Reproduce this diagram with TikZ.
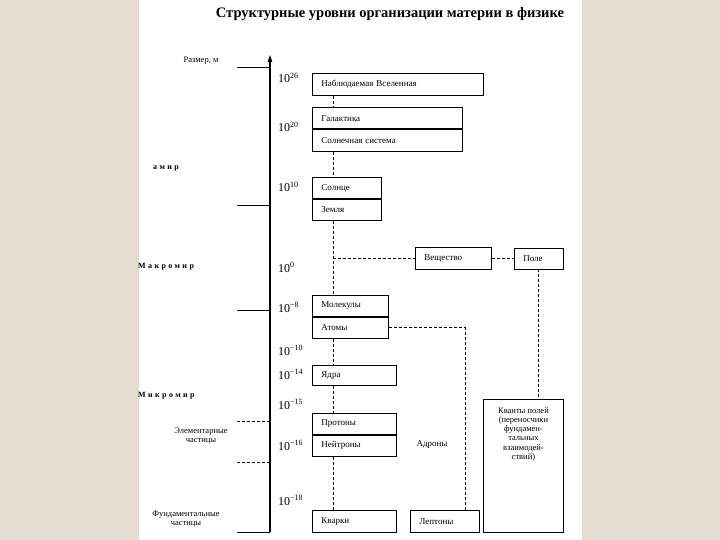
\documentclass[tikz,border=0pt]{standalone}
\usepackage{fontspec}
\setmainfont{Liberation Serif}
\newfontfamily\spacedfont[LetterSpace=30]{Liberation Serif}
\usetikzlibrary{arrows.meta, positioning, calc}
\definecolor{paperbg}{HTML}{E4DCCF}

\begin{document}
\begin{tikzpicture}[
  x=1pt, y=-1pt,
  font=\fontsize{9}{11}\selectfont,
  cell/.style={rectangle, draw=black, line width=0.9pt, minimum height=21.5pt,
               inner xsep=9pt, inner ysep=0pt, text width=#1, align=left, anchor=north west},
  power/.style={anchor=base west, inner sep=0pt, font=\fontsize{12}{14}\selectfont},
  realm/.style={anchor=west, inner sep=0pt, font=\spacedfont\bfseries\fontsize{8}{10}\selectfont},
  side/.style={align=center, inner sep=0pt, font=\fontsize{8.5}{9}\selectfont},
  link/.style={line width=0.9pt, dash pattern=on 3pt off 2pt},
  tick/.style={line width=0.8pt},
  axis/.style={line width=1.1pt, -{Triangle[length=7pt, width=4.5pt]}},
]
  % page and background
  \fill[paperbg] (0,0) rectangle (720,540);
  \fill[white] (139,0) rectangle (582,540);
  \useasboundingbox (0,0) rectangle (720,540);

  \node[font=\bfseries\fontsize{14.5}{16}\selectfont] (title) at (390,14)
    {Структурные уровни организации материи в физике};

  % size axis
  \coordinate (base) at (270,532);
  \coordinate (top) at (270,55);
  \coordinate (spine) at (333,0);
  \draw[axis] (base) -- (top);
  \foreach \y in {67,205,310,532}
    \draw[tick] (237,\y) -- (base |- 0,\y);
  \foreach \y in {421,462}
    \draw[tick, dash pattern=on 3pt off 2pt] (237,\y) -- (base |- 0,\y);

  \node[side, anchor=center] (size) at (201,61) {Размер, м};
  \node[realm] (mega) at (153,168) {амир};
  \node[realm] (macro) at (138,267) {Макромир};
  \node[realm] (micro) at (138,396) {Микромир};
  \node[side] (elem) at (201,436.5) {Элементарные\\частицы};
  \node[side] (fund) at (186,519) {Фундаментальные\\частицы};

  \foreach \ex/\yb [count=\i] in {26/83, 20/132, 10/192, 0/272, −8/312, −10/355, −14/379, −15/409, −16/450, −18/505}
    \node[power] (pow\i) at (278,\yb) {10\textsuperscript{\ex}};

  % levels
  \node[cell=153pt, minimum height=22pt] (univ) at (312,73) {Наблюдаемая Вселенная};
  \node[cell=132pt] (gal) at (312,107) {Галактика};
  \node[cell=132pt, below=0pt of gal] (sol) {Солнечная система};
  \node[cell=51pt, minimum height=21pt] (sun) at (312,177) {Солнце};
  \node[cell=51pt, minimum height=21pt, below=0pt of sun] (earth) {Земля};
  \node[cell=58pt, minimum height=22pt] (subst) at (415,247) {Вещество};
  \node[cell=31pt, minimum height=21pt, right=22pt of subst] (field) {Поле};
  \node[cell=58pt, minimum height=21pt] (mol) at (312,295) {Молекулы};
  \node[cell=58pt, minimum height=21pt, below=0pt of mol] (atoms) {Атомы};
  \node[cell=66pt, minimum height=20pt] (nuc) at (312,365) {Ядра};
  \node[cell=66pt, minimum height=21pt] (prot) at (312,413) {Протоны};
  \node[cell=66pt, minimum height=21pt, below=0pt of prot] (neut) {Нейтроны};
  \node[cell=66pt, minimum height=22pt] (quark) at (312,510) {Кварки};
  \node[cell=51pt, minimum height=22pt, right=13pt of quark] (lept) {Лептоны};
  \node[rectangle, draw=black, line width=0.9pt, minimum width=80pt, minimum height=133pt,
        anchor=north west,
        label={[anchor=north, align=center, yshift=-5pt, font=\fontsize{8.5}{9.2}\selectfont]north:{Кванты полей\\(переносчики\\фундамен-\\тальных\\взаимодей-\\ствий)}}]
    (quanta) at (483,399) {};
  \node (hadr) at (432,444) {Адроны};

  % links
  \coordinate (bend) at (465,0);
  \draw[link] (univ.south -| spine) -- (gal.north -| spine);
  \draw[link] (sol.south -| spine) -- (sun.north -| spine);
  \draw[link] (earth.south -| spine) -- (mol.north -| spine);
  \draw[link] (subst.west -| spine) -- (subst.west);
  \draw[link] (subst.east) -- (field.west);
  \draw[link] (field.south) -- (field.south |- quanta.north);
  \draw[link] (atoms.east) -- (atoms.east -| bend) -- (lept.north -| bend);
  \draw[link] (atoms.south -| spine) -- (nuc.north -| spine);
  \draw[link] (nuc.south -| spine) -- (prot.north -| spine);
  \draw[link] (neut.south -| spine) -- (quark.north -| spine);
\end{tikzpicture}
\end{document}
